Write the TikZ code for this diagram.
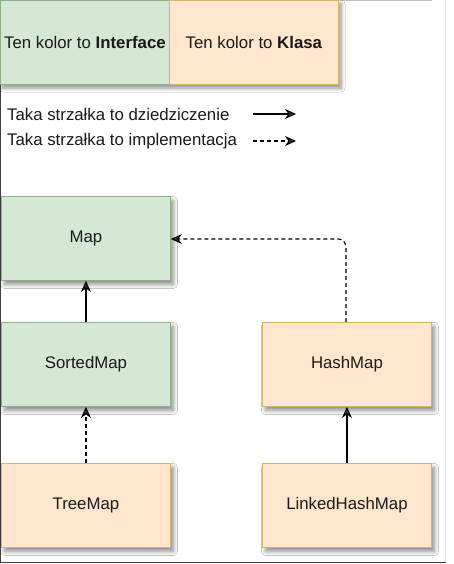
\documentclass[tikz,border=0pt]{standalone}
\usepackage{fontspec}
\setmainfont{Liberation Sans}
\usetikzlibrary{arrows.meta,shadows.blur}
\definecolor{ifill}{HTML}{D5E8D4}
\definecolor{idraw}{HTML}{8DAE87}
\definecolor{cfill}{HTML}{FFE6CC}
\definecolor{cdraw}{HTML}{D8B466}
\definecolor{txt}{HTML}{1A1A1A}
\begin{document}
\begin{tikzpicture}[x=1pt,y=-1pt,
  font=\fontsize{16.8}{20}\selectfont,
  shad/.style={blur shadow={shadow xshift=3pt, shadow yshift=-4pt, shadow blur steps=8, shadow blur radius=4pt, shadow opacity=45}},
  plainbox/.style={rectangle, minimum width=169pt, minimum height=84pt, inner sep=0pt, line width=0.9pt, text=txt},
  box/.style={plainbox, shad},
  iface/.style={box, fill=ifill, draw=idraw},
  klasa/.style={box, fill=cfill, draw=cdraw},
  ifaceleg/.style={plainbox, fill=ifill, draw=idraw},
  klasaleg/.style={plainbox, fill=cfill, draw=cdraw},
  tip/.style={-{Stealth[length=11pt,width=10pt,inset=3.5pt]}, line width=1.1pt},
  inh/.style={tip},
  impl/.style={tip, dash pattern=on 4pt off 3pt},
  lbl/.style={anchor=west, inner sep=0pt, text=txt}
]
\useasboundingbox (0,0) rectangle (453,564);
\fill[white] (0,0) rectangle (453,564);
% frame
\draw[line width=1.5pt, black!75] (0.5,0) -- (0.5,562.5) -- (446,562.5);
\draw[line width=1pt, black!25] (0,0.5) -- (432,0.5);
\draw[line width=0.6pt, black!8] (445.5,0) -- (445.5,562);

% legend boxes (one shared shadow)
\path[shad, fill=white] (0,0) rectangle (338,84);
\node[ifaceleg, anchor=north west] (leg1) at (0,0) {Ten kolor to \textbf{Interface}};
\node[klasaleg, anchor=north west] (leg2) at (169,0) {Ten kolor to \textbf{Klasa}};

% legend arrows
\node[lbl] (t1) at (7,114) {Taka strzałka to dziedziczenie};
\node[lbl] (t2) at (7,141) {Taka strzałka to implementacja};
\coordinate (a1s) at (253,114);
\coordinate (a1e) at (296,114);
\coordinate (a2s) at (253,141);
\coordinate (a2e) at (296,141);
\draw[inh] (a1s) -- (a1e);
\draw[impl] (a2s) -- (a2e);

% nodes
\node[iface, anchor=north west] (map) at (1,196) {Map};
\node[iface, anchor=north west] (sorted) at (1,322) {SortedMap};
\node[klasa, anchor=north west] (tree) at (1,463) {TreeMap};
\node[klasa, anchor=north west] (hash) at (262,322) {HashMap};
\node[klasa, anchor=north west] (linked) at (262,463) {LinkedHashMap};

% connectors
\draw[inh] (sorted.north) -- (map.south);
\draw[impl] (tree.north) -- (sorted.south);
\draw[inh] (linked.north) -- (hash.south);
\draw[impl, rounded corners=8pt] (hash.north -| 346,0) -- (346,239) -- (map.east |- 0,239);
\end{tikzpicture}
\end{document}
